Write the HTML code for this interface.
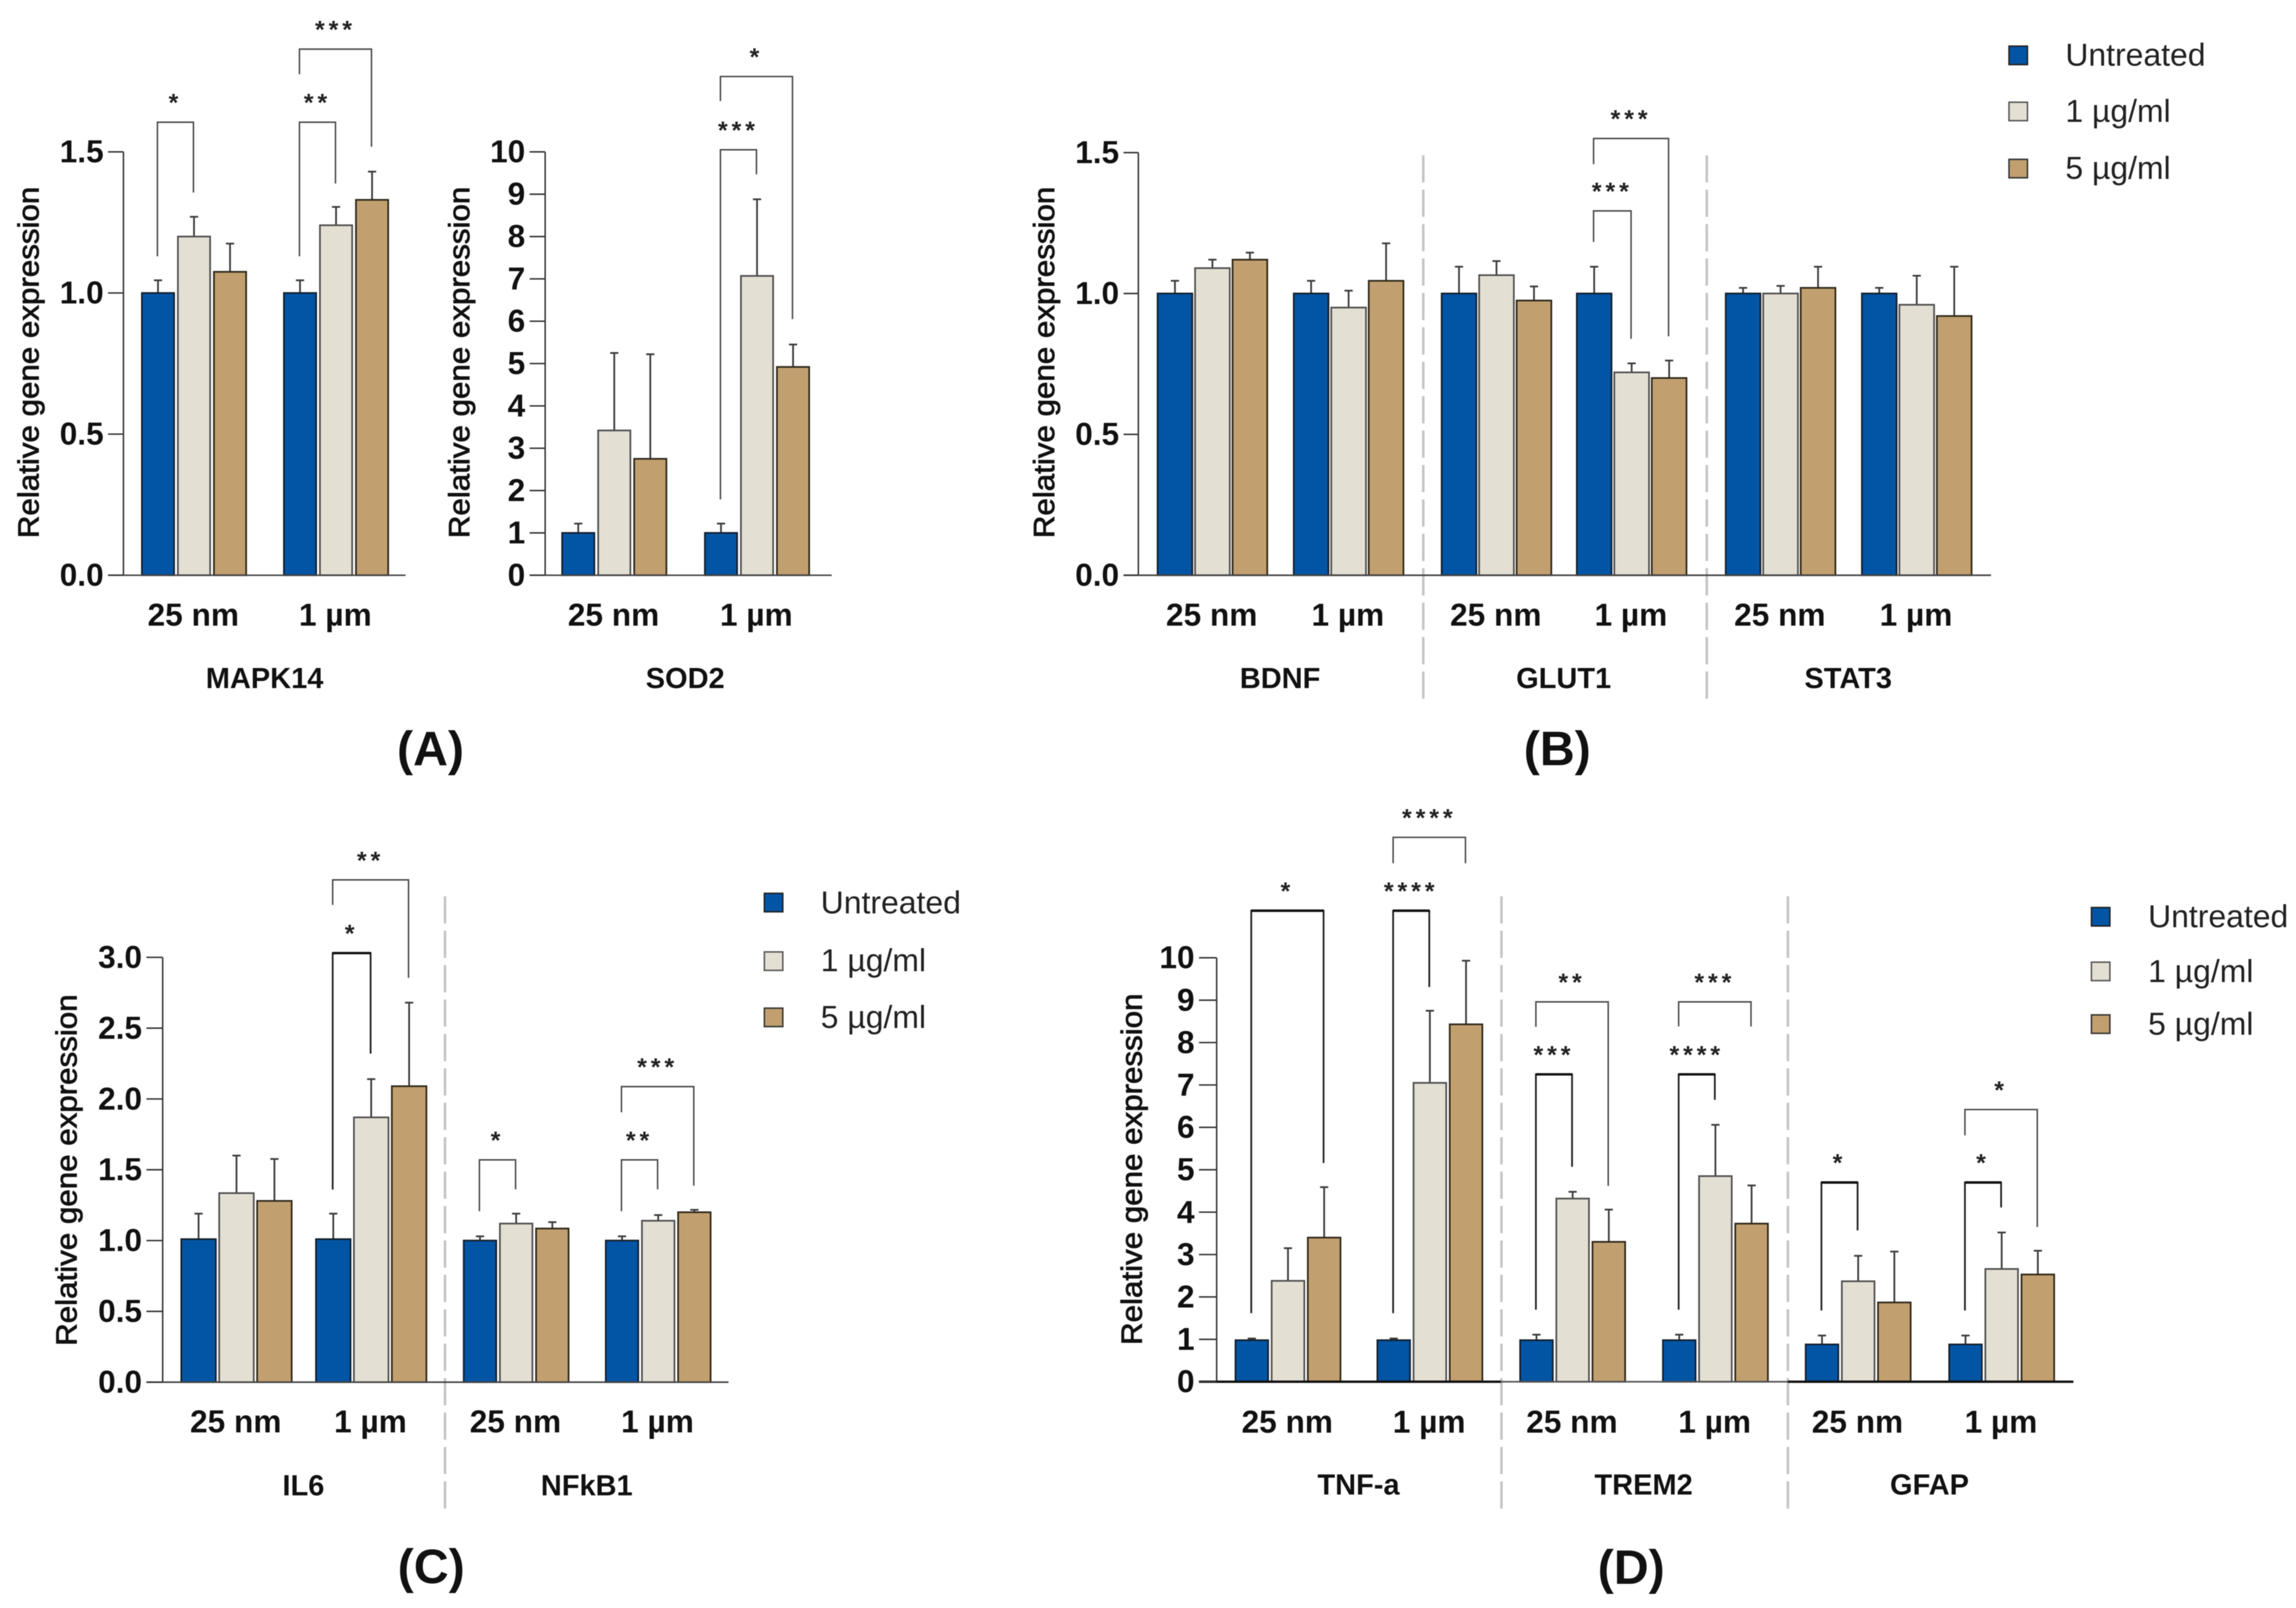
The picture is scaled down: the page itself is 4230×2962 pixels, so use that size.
<!DOCTYPE html>
<html lang="en">
<head>
<meta charset="utf-8">
<title>Relative gene expression panels</title>
<style>
html,body{margin:0;padding:0;background:#fff;width:4230px;height:2962px;overflow:hidden}
svg{display:block;filter:blur(.8px)}
text{font-family:"Liberation Sans",Arial,sans-serif;fill:#111}
.tick,.group{font-weight:700;font-size:21.6px}
.gene{font-weight:700;font-size:19.8px}
.ytitle{font-size:20px;font-weight:400;stroke:#111;stroke-width:.5px}
.letter{font-weight:700;font-size:33px}
.legend{font-size:21.8px;fill:#222}
.star{font-weight:700;font-size:17px;fill:#222;letter-spacing:2.7px}
.sep{stroke:#c4c4c4;stroke-width:1.7;stroke-dasharray:18.6 4.9;fill:none}
</style>
</head>
<body>
<svg id="fig" xmlns="http://www.w3.org/2000/svg" width="4230" height="2962" viewBox="0 0 1568 1098" preserveAspectRatio="none">
  <rect x="0" y="0" width="1568" height="1098" fill="#fff"/>

  <line class="sep" x1="972" y1="106" x2="972" y2="479"/>
  <line class="sep" x1="1165.6" y1="106" x2="1165.6" y2="479"/>
  <line class="sep" x1="303.9" y1="612" x2="303.9" y2="1032"/>
  <line class="sep" x1="1025.4" y1="612" x2="1025.4" y2="1032"/>
  <line class="sep" x1="1221" y1="612" x2="1221" y2="1032"/>

  <text class="letter" x="294" y="511" text-anchor="middle" dominant-baseline="central">(A)</text>
  <text class="letter" x="1063.5" y="511" text-anchor="middle" dominant-baseline="central">(B)</text>
  <text class="letter" x="294.5" y="1069.5" text-anchor="middle" dominant-baseline="central">(C)</text>
  <text class="letter" x="1114" y="1070" text-anchor="middle" dominant-baseline="central">(D)</text>

  <g>
    <rect x="1372" y="31.5" width="12.6" height="12.6" fill="#0255a5" stroke="#222" stroke-width="1"/>
    <text class="legend" x="1410.5" y="37.7" dominant-baseline="central">Untreated</text>
    <rect x="1372" y="69.8" width="12.6" height="12.6" fill="#e4dfd3" stroke="#555" stroke-width="1"/>
    <text class="legend" x="1410.5" y="76" dominant-baseline="central">1 µg/ml</text>
    <rect x="1372" y="108.8" width="12.6" height="12.6" fill="#c19f6f" stroke="#333" stroke-width="1"/>
    <text class="legend" x="1410.5" y="115" dominant-baseline="central">5 µg/ml</text>
  </g>
  <g>
    <rect x="522" y="610" width="12.6" height="12.6" fill="#0255a5" stroke="#222" stroke-width="1"/>
    <text class="legend" x="560.5" y="616.5" dominant-baseline="central">Untreated</text>
    <rect x="522" y="650" width="12.6" height="12.6" fill="#e4dfd3" stroke="#555" stroke-width="1"/>
    <text class="legend" x="560.5" y="656" dominant-baseline="central">1 µg/ml</text>
    <rect x="522" y="688.4" width="12.6" height="12.6" fill="#c19f6f" stroke="#333" stroke-width="1"/>
    <text class="legend" x="560.5" y="694.7" dominant-baseline="central">5 µg/ml</text>
  </g>
  <g>
    <rect x="1428.3" y="619.7" width="12.6" height="12.6" fill="#0255a5" stroke="#222" stroke-width="1"/>
    <text class="legend" x="1467" y="626" dominant-baseline="central">Untreated</text>
    <rect x="1428.3" y="657" width="12.6" height="12.6" fill="#e4dfd3" stroke="#555" stroke-width="1"/>
    <text class="legend" x="1467" y="663.3" dominant-baseline="central">1 µg/ml</text>
    <rect x="1428.3" y="693" width="12.6" height="12.6" fill="#c19f6f" stroke="#333" stroke-width="1"/>
    <text class="legend" x="1467" y="699.4" dominant-baseline="central">5 µg/ml</text>
  </g>
</svg>
<script>
// ---------- categories and tick labels ----------
const sizeLabels = ["25 nm", "1 µm"];
const seriesNames = ["untreated", "1ug", "5ug"];
const ticks15 = ["0.0", "0.5", "1.0", "1.5"];
const ticks10 = ["0", "1", "2", "3", "4", "5", "6", "7", "8", "9", "10"];
const ticks30 = ["0.0", "0.5", "1.0", "1.5", "2.0", "2.5", "3.0"];

// ---------- series values: [25 nm x3, 1 µm x3], order Untreated / 1 / 5 µg/ml ----------
const mapk14Values = [1.0, 1.2, 1.075, 1.0, 1.24, 1.33];
const mapk14Errors = [1.045, 1.27, 1.175, 1.045, 1.305, 1.43];
const sod2Values = [1.0, 3.42, 2.75, 1.0, 7.07, 4.92];
const sod2Errors = [1.22, 5.25, 5.22, 1.22, 8.88, 5.45];
const bdnfValues = [1.0, 1.09, 1.12, 1.0, 0.95, 1.045];
const bdnfErrors = [1.045, 1.12, 1.145, 1.045, 1.01, 1.178];
const glut1Values = [1.0, 1.065, 0.975, 1.0, 0.72, 0.70];
const glut1Errors = [1.095, 1.115, 1.025, 1.095, 0.752, 0.762];
const stat3Values = [1.0, 1.0, 1.02, 1.0, 0.96, 0.92];
const stat3Errors = [1.02, 1.027, 1.095, 1.02, 1.063, 1.095];
const il6Values = [1.01, 1.335, 1.28, 1.01, 1.87, 2.09];
const il6Errors = [1.19, 1.6, 1.576, 1.19, 2.14, 2.68];
const nfkb1Values = [1.0, 1.12, 1.085, 1.0, 1.14, 1.2];
const nfkb1Errors = [1.03, 1.19, 1.13, 1.03, 1.18, 1.217];
const tnfaValues = [0.98, 2.38, 3.4, 0.98, 7.05, 8.43];
const tnfaErrors = [1.02, 3.15, 4.59, 1.02, 8.75, 9.93];
const trem2Values = [0.98, 4.32, 3.3, 0.98, 4.85, 3.73];
const trem2Errors = [1.11, 4.48, 4.06, 1.11, 6.06, 4.63];
const gfapValues = [0.88, 2.37, 1.87, 0.88, 2.66, 2.53];
const gfapErrors = [1.09, 2.97, 3.07, 1.09, 3.52, 3.09];

// ---------- significance brackets, heights in axis units ----------
const mapk14Brackets = [
  {group:0, from:0, to:1, top:1.605, left:1.13, right:1.356, label:"*"},
  {group:1, from:0, to:1, top:1.605, left:1.13, right:1.388, label:"**"},
  {group:1, from:0, to:2, top:1.864, left:1.775, right:1.518, label:"***"}
];
const sod2Brackets = [
  {group:1, from:0, to:1, top:10.05, left:1.79, right:9.47, label:"***"},
  {group:1, from:0, to:2, top:11.78, left:11.2, right:6.05, label:"*"}
];
const glut1Brackets = [
  {group:1, from:0, to:1, top:1.293, left:1.183, right:0.839, label:"***"},
  {group:1, from:0, to:2, top:1.55, left:1.459, right:0.848, label:"***"}
];
const il6Brackets = [
  {group:1, from:0, to:1, top:3.03, left:1.36, right:2.32, label:"*", heavy:true},
  {group:1, from:0, to:2, top:3.547, left:3.37, right:2.855, label:"**"}
];
const nfkb1Brackets = [
  {group:0, from:0, to:1, top:1.57, left:1.207, right:1.362, label:"*"},
  {group:1, from:0, to:1, top:1.57, left:1.207, right:1.362, label:"**"},
  {group:1, from:0, to:2, top:2.087, left:1.906, right:1.388, label:"***"}
];
const tnfaBrackets = [
  {group:0, from:0, to:2, top:11.11, left:1.617, right:5.16, label:"*", heavy:true},
  {group:1, from:0, to:1, top:11.11, left:1.617, right:9.31, label:"****", heavy:true},
  {group:1, from:0, to:2, top:12.84, left:12.23, right:12.23, label:"****"}
];
const trem2Brackets = [
  {group:0, from:0, to:1, top:7.25, left:1.7, right:5.07, label:"***", heavy:true},
  {group:0, from:0, to:2, top:8.96, left:8.37, right:4.62, label:"**"},
  {group:1, from:0, to:1, top:7.25, left:1.7, right:6.65, label:"****", heavy:true},
  {group:1, from:0, to:2, top:8.96, left:8.38, right:8.38, label:"***"}
];
const gfapBrackets = [
  {group:0, from:0, to:1, top:4.7, left:1.68, right:3.57, label:"*", heavy:true},
  {group:1, from:0, to:1, top:4.7, left:1.68, right:4.11, label:"*", heavy:true},
  {group:1, from:0, to:2, top:6.42, left:5.81, right:3.65, label:"*"}
];

// ---------- layout ----------
const SVGNS = "http://www.w3.org/2000/svg";
const svg = document.getElementById("fig");
const fills = ["#0255a5", "#e4dfd3", "#c19f6f"];
const strokes = ["#14202e", "#4f4f4f", "#2e2719"];

function mk(tag, attrs, parent, txt) {
  const el = document.createElementNS(SVGNS, tag);
  for (const k in attrs) el.setAttribute(k, attrs[k]);
  if (txt !== undefined) el.textContent = txt;
  parent.appendChild(el);
  return el;
}
function slug(s) { return s.toLowerCase().replace(/[^a-z0-9]+/g, "-"); }

function drawGene(chart, gene, yOf, parent) {
  const g = mk("g", {}, parent);
  
  

  sizeLabels.forEach(function (label, gi) {
    const groupX = gene.center + gi * gene.groupStep;
    const t = mk("text", {class:"group", x:groupX - 0.5, y:chart.groupY, "text-anchor":"middle", "dominant-baseline":"central"}, g, label);
    
    

    seriesNames.forEach(function (series, si) {
      const i = gi * seriesNames.length + si;
      const cx = groupX + (si - 1) * gene.barStep;
      const v = gene.values[i];
      const e = gene.errors[i];
      const err = mk("line", {x1:cx, x2:cx, y1:yOf(v), y2:yOf(e), stroke:"#3c3c3c", "stroke-width":1.2}, g);
      
      
      const cap = mk("line", {x1:cx-2.8, x2:cx+2.8, y1:yOf(e), y2:yOf(e), stroke:"#3c3c3c", "stroke-width":1.2}, g);
      
      
      const bar = mk("rect", {x:cx-gene.barW/2, y:yOf(v), width:gene.barW, height:yOf(0)-yOf(v), fill:fills[si], stroke:strokes[si], "stroke-width":1.15}, g);
      
      
    });
  });

  const name = mk("text", {class:"gene", x:gene.center + gene.groupStep/2 - 0.3, y:chart.geneY, "text-anchor":"middle", "dominant-baseline":"central"}, g, gene.name);
  
  

  (gene.brackets || []).forEach(function (b, k) {
    const gx = gene.center + b.group * gene.groupStep;
    const x1 = gx + (b.from - 1) * gene.barStep - 0.4;
    const x2 = gx + (b.to - 1) * gene.barStep - 0.4;
    const w = b.heavy ? 1.2 : 1;
    const col = b.heavy ? "#222" : "#484848";
    const path = mk("path", {d:"M"+x1+" "+yOf(b.left)+"V"+yOf(b.top)+"H"+x2+"V"+yOf(b.right), fill:"none", stroke:col, "stroke-width":w}, g);
    
    
    if (b.heavy) {
      const heavyTop = mk("line", {x1:x1, x2:x2, y1:yOf(b.top), y2:yOf(b.top), stroke:"#111", "stroke-width":1.7}, g);
      
      
    }
    const star = mk("text", {class:"star", x:(x1+x2)/2, y:yOf(b.top)-13.5, "text-anchor":"middle", "dominant-baseline":"central"}, g, b.label);
    
    
  });
}

function drawChart(chart) {
  const g = mk("g", {}, svg);
  
  

  const maxTick = parseFloat(chart.ticks[chart.ticks.length - 1]);
  const yOf = function (v) { return chart.base - (v / maxTick) * (chart.base - chart.top); };

  chart.genes.forEach(function (gene) { drawGene(chart, gene, yOf, g); });

  const yAxis = mk("line", {x1:chart.axisX, x2:chart.axisX, y1:chart.top, y2:chart.base, stroke:"#333", "stroke-width":1}, g);
  
  

  chart.baseline.forEach(function (seg, i) {
    const xAxis = mk("line", {x1:seg.from, x2:seg.to, y1:chart.base, y2:chart.base, stroke:seg.color, "stroke-width":seg.width}, g);
    
    
  });

  chart.ticks.forEach(function (label) {
    const v = parseFloat(label);
    const tk = mk("line", {x1:chart.tickStart, x2:chart.axisX, y1:yOf(v), y2:yOf(v), stroke:"#333", "stroke-width":1}, g);
    
    
    const t = mk("text", {class:"tick", x:chart.tickStart - 3, y:yOf(v), "text-anchor":"end", "dominant-baseline":"central"}, g, label);
    
    
  });

  const yt = mk("text", {class:"ytitle", transform:"translate(" + chart.titleX + " " + chart.titleY + ") rotate(-90)", "text-anchor":"middle", "dominant-baseline":"central", textLength:240, lengthAdjust:"spacingAndGlyphs"}, g, "Relative gene expression");
  
  
}

const thin = "#444";
const charts = [
  {id:"mapk14", ticks:ticks15, axisX:84.3, tickStart:73.8, top:103.7, base:392.8, titleX:19.6, titleY:247.5, groupY:420, geneY:463.3,
   baseline:[{from:73.8, to:277, color:thin, width:1}],
   genes:[{name:"MAPK14", values:mapk14Values, errors:mapk14Errors, brackets:mapk14Brackets, center:132.5, groupStep:97, barW:22, barStep:24.6}]},
  {id:"sod2", ticks:ticks10, axisX:372.3, tickStart:361.7, top:103.7, base:392.8, titleX:313.8, titleY:247.5, groupY:420, geneY:463.3,
   baseline:[{from:361.7, to:568, color:thin, width:1}],
   genes:[{name:"SOD2", values:sod2Values, errors:sod2Errors, brackets:sod2Brackets, center:419.5, groupStep:97.5, barW:22, barStep:24.6}]},
  {id:"panel-b", ticks:ticks15, axisX:777.4, tickStart:767.3, top:104.2, base:392.8, titleX:713.2, titleY:247.5, groupY:420, geneY:463.3,
   baseline:[{from:767.3, to:1359.7, color:thin, width:1.1}],
   genes:[
     {name:"BDNF", values:bdnfValues, errors:bdnfErrors, center:828, groupStep:93, barW:23.7, barStep:25.6},
     {name:"GLUT1", values:glut1Values, errors:glut1Errors, brackets:glut1Brackets, center:1022, groupStep:92.3, barW:23.7, barStep:25.6},
     {name:"STAT3", values:stat3Values, errors:stat3Errors, center:1216, groupStep:93, barW:23.7, barStep:25.6}
   ]},
  {id:"panel-c", ticks:ticks30, axisX:111.1, tickStart:100, top:653.7, base:943.8, titleX:45.6, titleY:799, groupY:970.8, geneY:1014.6,
   baseline:[{from:100, to:497.5, color:thin, width:1.1}],
   genes:[
     {name:"IL6", values:il6Values, errors:il6Errors, brackets:il6Brackets, center:161.5, groupStep:92, barW:23.6, barStep:25.9},
     {name:"NFkB1", values:nfkb1Values, errors:nfkb1Errors, brackets:nfkb1Brackets, center:352.5, groupStep:97, barW:22.2, barStep:24.7}
   ]},
  {id:"panel-d", ticks:ticks10, axisX:830.9, tickStart:818.8, top:654, base:943.5, titleX:773, titleY:798.4, groupY:971, geneY:1014,
   baseline:[
     {from:818.8, to:1025, color:"#111", width:1.6},
     {from:1025, to:1221, color:"#555", width:1.1},
     {from:1221, to:1416, color:"#111", width:1.6}
   ],
   genes:[
     {name:"TNF-a", values:tnfaValues, errors:tnfaErrors, brackets:tnfaBrackets, center:879.6, groupStep:96.9, barW:22.3, barStep:24.7},
     {name:"TREM2", values:trem2Values, errors:trem2Errors, brackets:trem2Brackets, center:1074, groupStep:97.5, barW:22.3, barStep:24.7},
     {name:"GFAP", values:gfapValues, errors:gfapErrors, brackets:gfapBrackets, center:1269, groupStep:98, barW:22.3, barStep:24.7}
   ]}
];
charts.forEach(drawChart);
</script>
</body>
</html>
